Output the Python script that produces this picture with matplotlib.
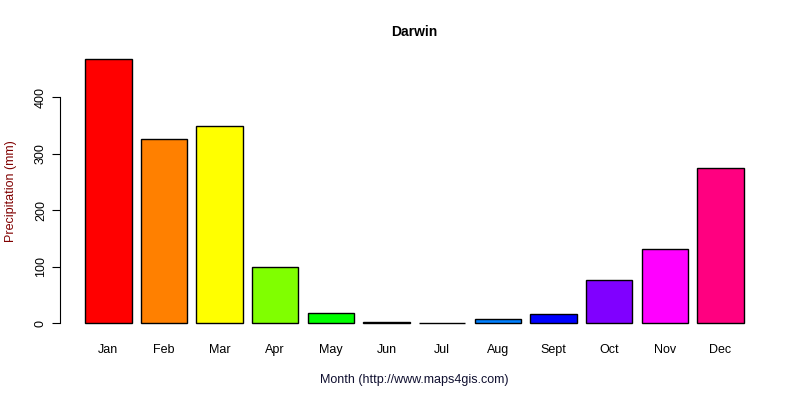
import numpy as np
import matplotlib
matplotlib.use('Agg')
from matplotlib import pyplot as plt

# 数据
months = ['Jan', 'Feb', 'Mar', 'Apr', 'May', 'Jun', 'Jul', 'Aug', 'Sept', 'Oct', 'Nov', 'Dec']
precip = [467, 327, 350, 99, 18, 2, 1, 7, 16, 76, 131, 274]
colors = ['#FF0000', '#FF8000', '#FFFF00', '#80FF00', '#00FF00', '#00FF80',
          '#00FFFF', '#0080FF', '#0000FF', '#8000FF', '#FF00FF', '#FF0080']

plt.rcParams['font.family'] = ['Liberation Sans', 'DejaVu Sans']

fig = plt.figure(figsize=(8, 4), dpi=100)
ax = fig.add_axes([0.0735, 0.165, 0.889, 0.713])

# R barplot 风格: 宽1, 间隔0.2
x = 0.2 + np.arange(len(months)) * 1.2 + 0.5
ax.bar(x, precip, width=1.0, color=colors, edgecolor='black', linewidth=1)

ax.set_xlim(0.2 - 0.568, 14.4 + 0.568)
ymax = max(precip)
ax.set_ylim(-0.04 * ymax, ymax * 1.04)

for s in ['top', 'right', 'bottom']:
    ax.spines[s].set_visible(False)
ax.spines['left'].set_bounds(0, 400)
ax.spines['left'].set_position(('data', 0.2 - 0.568 + 0.03))

ax.set_yticks(range(0, 401, 100))
ax.set_yticklabels([str(v) for v in range(0, 401, 100)], rotation=90, va='center')
ax.tick_params(axis='y', length=6, labelsize=9)
ax.set_xticks(x)
ax.set_xticklabels(months)
ax.tick_params(axis='x', length=0, labelsize=9, pad=7)

ax.set_title('Darwin', fontsize=10, fontweight='bold', pad=9)
ax.set_xlabel('Month (http://www.maps4gis.com)', fontsize=9, color='#101030', labelpad=13)
ax.set_ylabel('Precipitation (mm)', fontsize=9, color='#800000', labelpad=13)

plt.savefig('out.png')
